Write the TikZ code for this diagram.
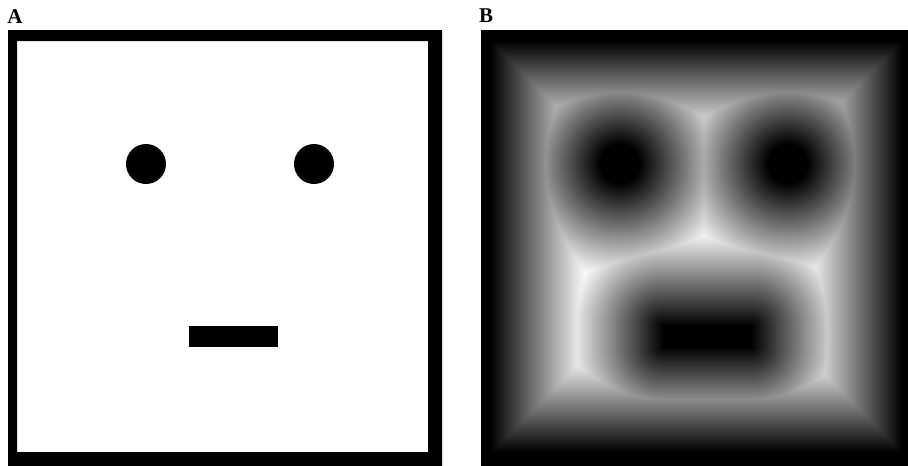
\documentclass[tikz,border=0pt]{standalone}
\usepackage{fontspec}
\setmainfont{Liberation Serif}
\usepackage{tikz}

\begin{document}
\begin{tikzpicture}[x=1pt, y=-1pt,
  lbl/.style={font=\bfseries\fontsize{21}{21}\selectfont, inner sep=0pt}]
\fill[white] (0,0) rectangle (908,466);
\useasboundingbox (0,0) rectangle (908,466);
% panel letters
\node[lbl] (labA) at (15,16.5) {A};
\node[lbl] (labB) at (486,15.5) {B};
% A: the binary face
\fill[black, even odd rule] (8,30) rectangle (442,466) (17,41) rectangle (428,452);
\fill[black] (146,164) circle (20) (314,164) circle (20);
\fill[black] (189,326) rectangle (278,347);
% B: distance map of the same face
\begin{scope}[xshift=474pt]
\clip (7,30) rectangle (434,466);
\fill[white] (7,30) rectangle (434,466);
\foreach \d in {96,95,...,1}{
  \pgfmathsetmacro\lev{100*\d/96}
  \fill[white!\lev!black, even odd rule] (7,30) rectangle (434,466) (17+\d,41+\d) rectangle (428-\d,452-\d);
  \fill[white!\lev!black] (146,164) circle (20+\d) (314,164) circle (20+\d);
  \fill[white!\lev!black, rounded corners=\d] (189-\d,326-\d) rectangle (278+\d,347+\d);
}
\fill[black, even odd rule] (7,30) rectangle (434,466) (17,41) rectangle (428,452);
\fill[black] (146,164) circle (20.5) (314,164) circle (20.5);
\fill[black] (189,326) rectangle (278,347);
\end{scope}
\end{tikzpicture}
\end{document}
